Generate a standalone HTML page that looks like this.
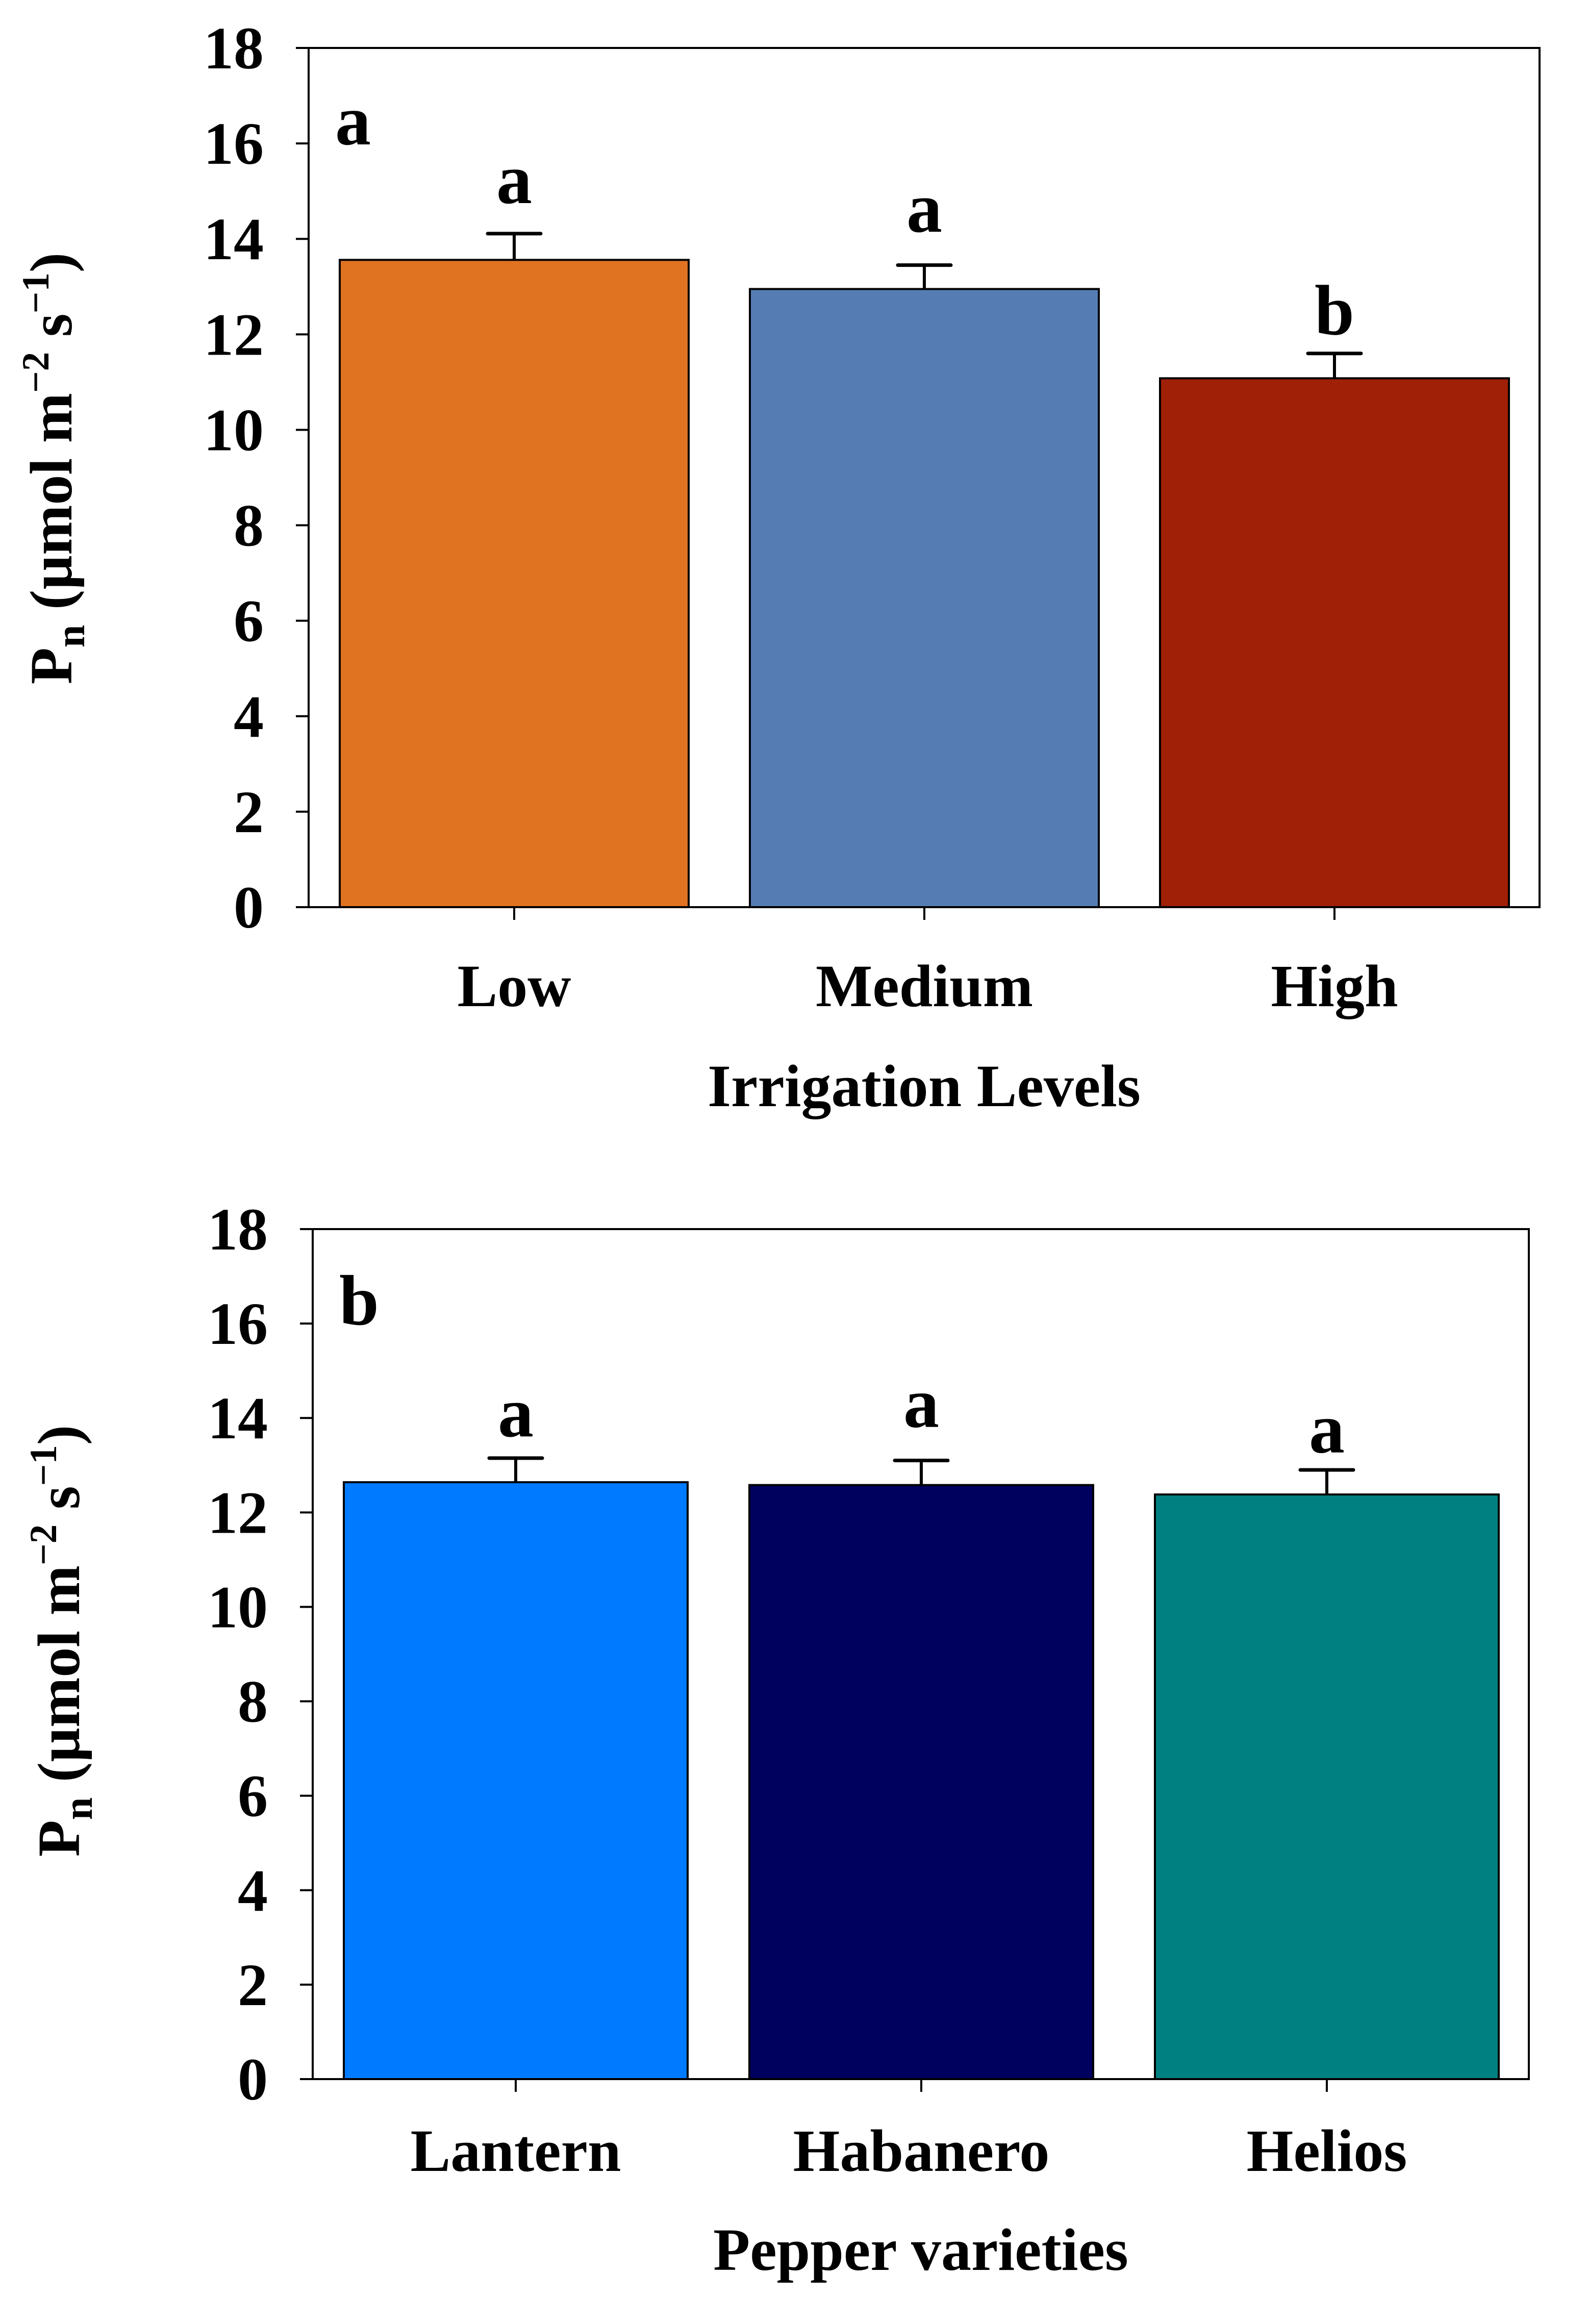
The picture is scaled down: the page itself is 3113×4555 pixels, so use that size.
<!DOCTYPE html>
<html><head><meta charset="utf-8"><style>
html,body{margin:0;padding:0;background:#fff;}
svg{display:block;font-family:"Liberation Serif",serif;font-weight:bold;}
</style></head><body>
<svg id="fig" width="3113" height="4555" viewBox="0 0 3113 4555" xmlns="http://www.w3.org/2000/svg"></svg>
<script>
// Panel a data
const catsA = ["Low", "Medium", "High"];
const valsA = [13.56, 12.95, 11.08];
const errA = [0.55, 0.5, 0.52];
const lettersA = ["a", "a", "b"];
const letterPosA = [14.75, 14.15, 12.0];
const colorsA = ["#E07322", "#557DB4", "#A01F07"];
// Panel b data
const catsB = ["Lantern", "Habanero", "Helios"];
const valsB = [12.64, 12.58, 12.38];
const errB = [0.51, 0.52, 0.52];
const lettersB = ["a", "a", "a"];
const letterPosB = [13.61, 13.81, 13.27];
const colorsB = ["#007BFF", "#00005E", "#008080"];
const yTicks = [0, 2, 4, 6, 8, 10, 12, 14, 16, 18];

const NS = "http://www.w3.org/2000/svg";
const svg = document.getElementById("fig");
function mk(tag, attrs, parent) {
  const e = document.createElementNS(NS, tag);
  for (const k in attrs) e.setAttribute(k, attrs[k]);
  (parent || svg).appendChild(e);
  return e;
}

function panel(cfg) {
  const g = mk("g", {});
  
  
  const y = v => cfg.bottom - (v / 18) * (cfg.bottom - cfg.top);
  const fr = mk("rect", {x: cfg.left, y: cfg.top, width: cfg.right - cfg.left, height: cfg.bottom - cfg.top, fill: "none", stroke: "#000", "stroke-width": 4}, g);
  
  
  yTicks.forEach(t => {
    const tk = mk("line", {x1: cfg.left - 25, x2: cfg.left, y1: y(t), y2: y(t), stroke: "#000", "stroke-width": 4}, g);
    
    
    const tl = mk("text", {x: cfg.left - 88, y: y(t) + 40, "text-anchor": "end", "font-size": 118}, g);
    tl.textContent = t;
    
    
  });
  cfg.cats.forEach((c, i) => {
    const x0 = cfg.firstBar + i * cfg.step;
    const cx = x0 + cfg.barW / 2;
    const top = y(cfg.vals[i]);
    const bar = mk("rect", {x: x0, y: top, width: cfg.barW, height: cfg.bottom - top, fill: cfg.colors[i], stroke: "#000", "stroke-width": 4}, g);
    
    
    const et = y(cfg.vals[i] + cfg.err[i]);
    const ev = mk("line", {x1: cx, x2: cx, y1: top, y2: et, stroke: "#000", "stroke-width": 6}, g);
    
    
    const ec = mk("line", {x1: cx - 52, x2: cx + 52, y1: et, y2: et, stroke: "#000", "stroke-width": 7, "stroke-linecap": "round"}, g);
    
    
    const lt = mk("text", {x: cx, y: y(cfg.letterPos[i]), "text-anchor": "middle", "font-size": 140}, g);
    lt.textContent = cfg.letters[i];
    
    
    const xt = mk("line", {x1: cx, x2: cx, y1: cfg.bottom, y2: cfg.bottom + 25, stroke: "#000", "stroke-width": 4}, g);
    
    
    const cl = mk("text", {x: cx, y: cfg.catY, "text-anchor": "middle", "font-size": 118}, g);
    cl.textContent = c;
    
    
  });
  const pl = mk("text", {x: cfg.left + 52, y: cfg.panelY, "font-size": 140}, g);
  pl.textContent = cfg.panelLetter;
  
  
  const xt = mk("text", {x: (cfg.left + cfg.right) / 2, y: cfg.titleY, "text-anchor": "middle", "font-size": 118}, g);
  xt.textContent = cfg.xTitle;
  
  
  const yt = mk("text", {x: 0, y: 0, "text-anchor": "middle", "font-size": 118, transform: "translate(" + cfg.yTitleX + "," + cfg.yTitleY + ") rotate(-90)"}, g);
  yt.innerHTML = 'P<tspan font-size="80" dy="25">n</tspan><tspan dy="-25"> (µmol m</tspan><tspan font-size="75" dy="-45">−2</tspan><tspan dy="45"> s</tspan><tspan font-size="75" dy="-45">−1</tspan><tspan dy="45">)</tspan>';
  
  
}

panel({name: "panel-a", left: 605, right: 3018, top: 94, bottom: 1778, firstBar: 666, barW: 684, step: 804,
  cats: catsA, vals: valsA, err: errA, letters: lettersA, letterPos: letterPosA, colors: colorsA,
  catY: 1972, titleY: 2168, xTitle: "Irrigation Levels", panelLetter: "a", panelY: 283, yTitleX: 140, yTitleY: 918});
panel({name: "panel-b", left: 613, right: 2997, top: 2409, bottom: 4075, firstBar: 674, barW: 674, step: 795,
  cats: catsB, vals: valsB, err: errB, letters: lettersB, letterPos: letterPosB, colors: colorsB,
  catY: 4255, titleY: 4449, xTitle: "Pepper varieties", panelLetter: "b", panelY: 2596, yTitleX: 155, yTitleY: 3216});
</script>
</body></html>
